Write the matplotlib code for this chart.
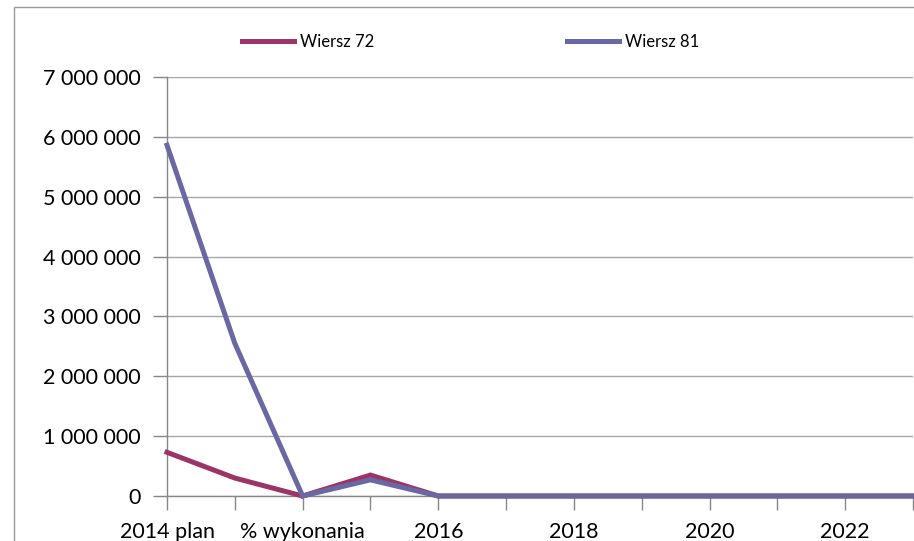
import matplotlib
matplotlib.use("Agg")
import matplotlib.pyplot as plt
from matplotlib.patches import Rectangle
from matplotlib.ticker import FuncFormatter, FixedLocator

categories = ["2014 plan", "2014 wykonanie", "% wykonania", "2015", "2016", "2017",
              "2018", "2019", "2020", "2021", "2022", "2023"]
wiersz_72 = [730000, 300000, 0, 350000, 0, 0, 0, 0, 0, 0, 0, 0]
wiersz_81 = [5860000, 2550000, 0, 270000, 0, 0, 0, 0, 0, 0, 0, 0]
series_names = ["Wiersz 72", "Wiersz 81"]
y_ticks = [0, 1000000, 2000000, 3000000, 4000000, 5000000, 6000000, 7000000]

W, H = 914, 541
fig = plt.figure(figsize=(W / 100, H / 100), dpi=100)
fig.patch.set_facecolor("white")
plt.rcParams["font.family"] = ["Lato", "DejaVu Sans"]

# outer chart border (cropped at right/bottom)
fig.patches.append(Rectangle((14 / W, -0.05), 1.0, 1 - 7 / H + 0.05, transform=fig.transFigure,
                             fill=False, edgecolor="#9a9a9a", linewidth=1.0))

left, right = 167 / W, 913 / W
bottom, top = 1 - 496 / H, 1 - 77 / H
ax = fig.add_axes([left, bottom, right - left, top - bottom])

x = list(range(len(categories)))
c72 = "#9b3567"
c81 = "#6a68a2"
ax.plot(x, wiersz_72, color=c72, lw=3.6, solid_joinstyle="miter", label=series_names[0], zorder=3, clip_on=False)
ax.plot(x, wiersz_81, color=c81, lw=3.6, solid_joinstyle="miter", label=series_names[1], zorder=4, clip_on=False)

ax.set_xlim(0, len(categories) - 1)
ax.set_ylim(0, 7000000)
ax.yaxis.set_major_locator(FixedLocator(y_ticks))
ax.yaxis.set_major_formatter(FuncFormatter(lambda v, p: f"{int(v):,}".replace(",", " ")))
ax.grid(axis="y", color="#a6a6a6", linewidth=1.0)
ax.set_axisbelow(True)

ax.set_xticks(x)
ax.set_xticklabels([c if i % 2 == 0 else "" for i, c in enumerate(categories)])

for s in ["top", "right"]:
    ax.spines[s].set_visible(False)
for s in ["left", "bottom"]:
    ax.spines[s].set_color("#868686")
    ax.spines[s].set_linewidth(1.0)

ax.tick_params(axis="y", length=10, width=1, color="#868686", labelsize=15.5, pad=9, labelcolor="black")
ax.tick_params(axis="x", length=10, width=1, color="#868686", labelsize=15.5, pad=9, labelcolor="black")

leg = fig.legend(handles=ax.get_lines(), labels=series_names, loc="center",
                 bbox_to_anchor=(0.515, 1 - 42 / H), ncol=2, frameon=False,
                 fontsize=12, handlelength=3.1, handletextpad=0.35, columnspacing=11.6)

fig.savefig("out.png", dpi=100)
